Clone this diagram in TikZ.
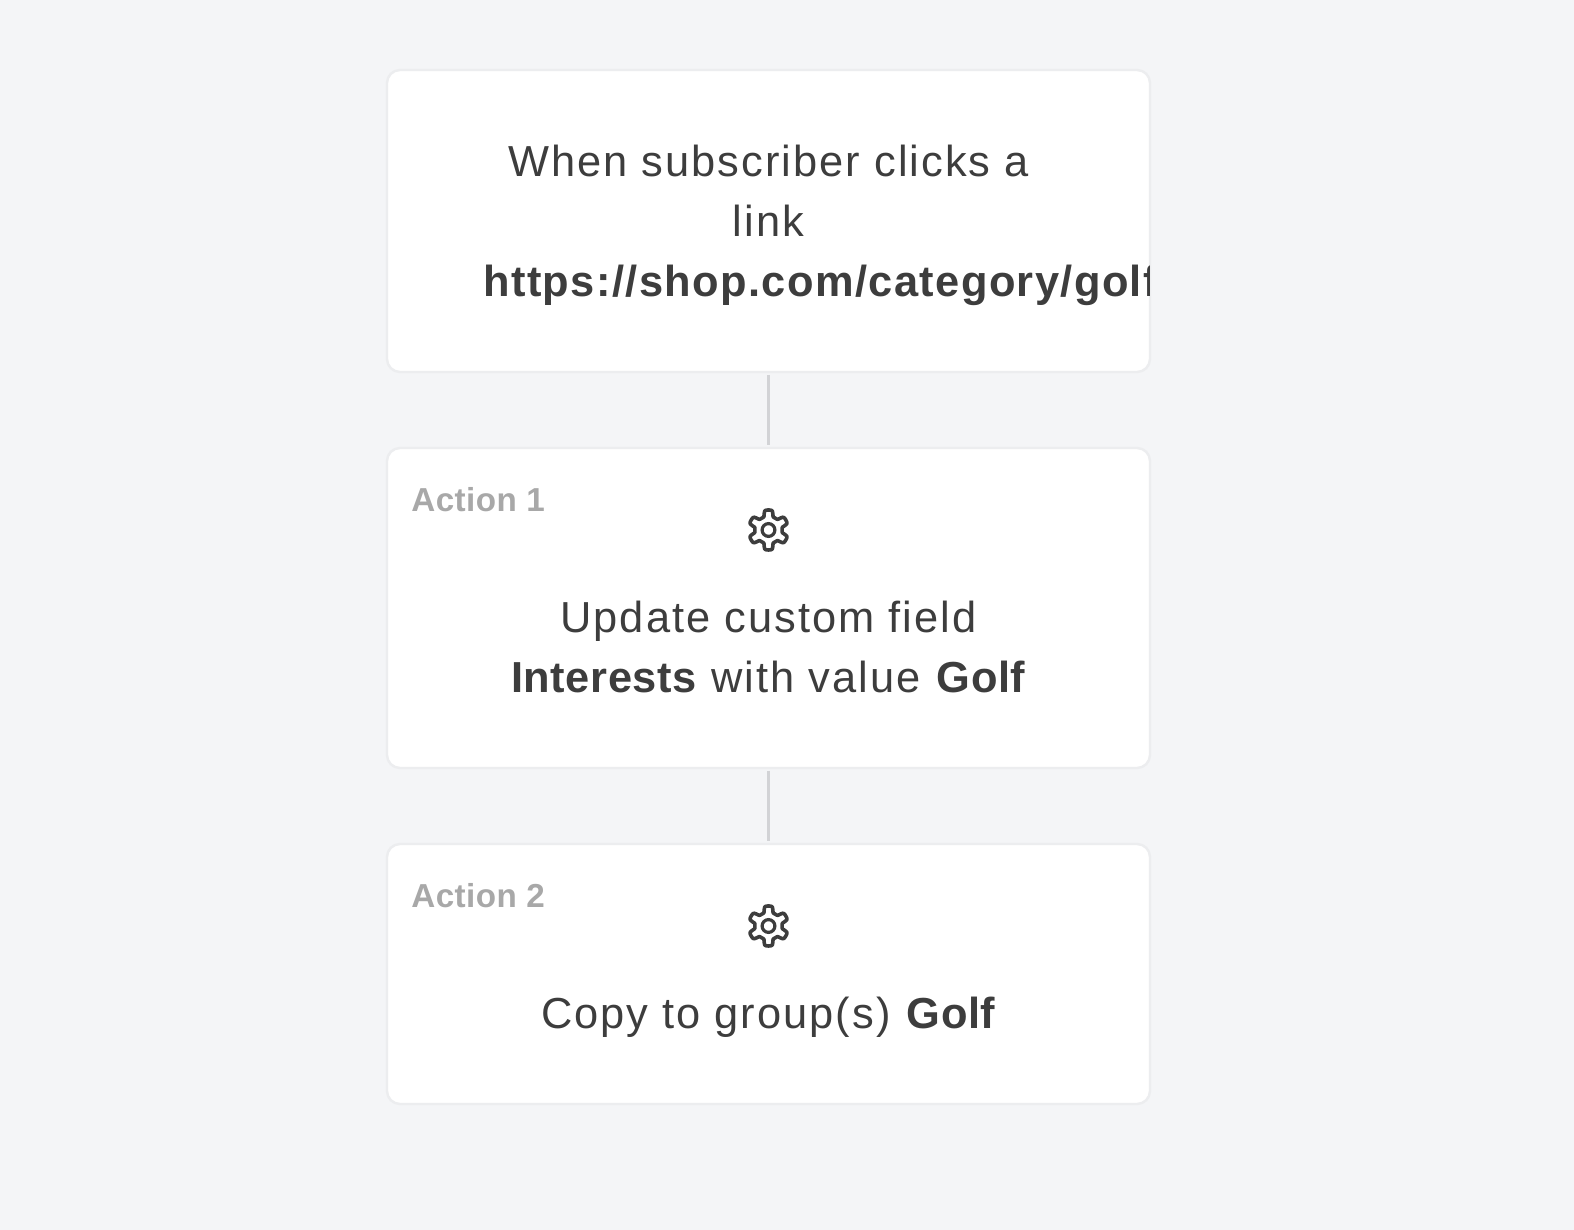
\documentclass[tikz,border=0pt]{standalone}
\usepackage{fontspec}
\setmainfont[LetterSpace=4.7,BoldFeatures={LetterSpace=1.3}]{Liberation Sans}
\newfontfamily\urlfont[BoldFeatures={LetterSpace=3.2}]{Liberation Sans}
\usetikzlibrary{positioning}
\definecolor{pagebg}{HTML}{F4F5F7}
\definecolor{cardline}{HTML}{ECEDEF}
\definecolor{linkline}{HTML}{D2D3D6}
\definecolor{bodytext}{HTML}{3D3D3D}
\definecolor{tagtext}{HTML}{A8A8A8}
\tikzset{
    card/.style={draw=cardline, line width=1.2pt, fill=white, rounded corners=6.5pt,
        minimum width=381.5pt, inner sep=0pt, outer sep=1.5pt},
    link/.style={draw=linkline, line width=1.3pt},
    bodyline/.style={text=bodytext, font=\fontsize{21.7}{30}\selectfont, inner sep=0pt, anchor=base},
    tag/.style={text=tagtext, font=\fontsize{16.6}{20}\selectfont\bfseries, inner sep=0pt, anchor=base west},
}
\newcommand{\gearicon}[1]{%
    \draw[bodytext, line width=1.8pt, line join=round, shift={(#1)}]
        plot[smooth cycle, tension=0.25, samples=97, domain=0:360, variable=\a]
            ({(8.4+1.6*tanh(-3*cos(6*\a)))*cos(\a)}, {(8.4+1.6*tanh(-3*cos(6*\a)))*sin(\a)});
    \draw[bodytext, line width=1.6pt] (#1) circle (3.2pt);
}
\begin{document}
\begin{tikzpicture}[x=1pt, y=1pt]
    \useasboundingbox[fill=pagebg] (0,0) rectangle (787,615);
    \node[card, minimum height=151pt, anchor=north] (trigger) at (384.25,581.5) {};
    \node[card, minimum height=160pt, below=35pt of trigger] (actionA) {};
    \node[card, minimum height=130pt, below=35pt of actionA] (actionB) {};
    \draw[link] (trigger) -- (actionA);
    \draw[link] (actionA) -- (actionB);
    % trigger
    \node[bodyline] (whenline) at (384.25,526.5) {When subscriber clicks a};
    \node[bodyline] (linkword) at (384.25,496.5) {link};
    \begin{scope}
        \clip (trigger.south west) rectangle ([xshift=-2pt]trigger.north east);
        \node[bodyline, anchor=base west] (urlline) at (241.5,466.5) {\urlfont\bfseries https://shop.com/category/golf};
    \end{scope}
    % action 1
    \node[tag] (tagA) at (205.5,359) {Action 1};
    \gearicon{384.25,350}
    \node[bodyline] (fieldline) at (384.25,298.5) {Update custom field};
    \node[bodyline] (valueline) at (384.25,268.5) {\textbf{Interests} with value \textbf{Golf}};
    % action 2
    \node[tag] (tagB) at (205.5,161) {Action 2};
    \gearicon{384.25,152}
    \node[bodyline] (copyline) at (384.25,100.5) {Copy to group(s) \textbf{Golf}};
\end{tikzpicture}
\end{document}
